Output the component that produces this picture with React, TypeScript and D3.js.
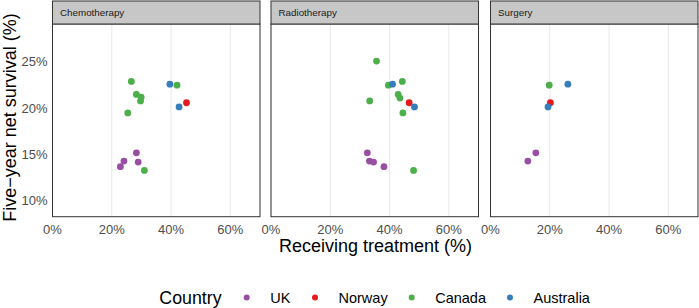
import React from "react";
import * as d3 from "d3";

const countries = ["UK", "Norway", "Canada", "Australia"];
const countryColors = ["#984EA3", "#E41A1C", "#4DAF4A", "#377EB8"];
const treatments = ["Chemotherapy", "Radiotherapy", "Surgery"];
const xTicks = [0, 20, 40, 60];
const yTicks = [10, 15, 20, 25];

// [country, receiving treatment %, five-year net survival %]
const chemoPoints: [string, number, number][] = [
  ["Canada", 26.6, 22.9],
  ["Australia", 39.6, 22.6],
  ["Canada", 42.0, 22.5],
  ["Canada", 28.3, 21.5],
  ["Canada", 29.9, 21.2],
  ["Canada", 29.7, 20.8],
  ["Norway", 45.2, 20.6],
  ["Australia", 42.7, 20.15],
  ["Canada", 25.4, 19.5],
  ["UK", 28.3, 15.2],
  ["UK", 24.1, 14.3],
  ["UK", 28.9, 14.2],
  ["UK", 22.9, 13.7],
  ["Canada", 31.0, 13.3],
];
const radioPoints: [string, number, number][] = [
  ["Canada", 35.6, 25.1],
  ["Canada", 44.3, 22.9],
  ["Canada", 39.6, 22.5],
  ["Australia", 41.0, 22.6],
  ["Canada", 42.9, 21.5],
  ["Canada", 43.5, 21.1],
  ["Norway", 46.6, 20.6],
  ["Australia", 48.4, 20.15],
  ["Canada", 33.3, 20.8],
  ["Canada", 44.5, 19.5],
  ["UK", 32.5, 15.2],
  ["UK", 33.2, 14.3],
  ["UK", 34.6, 14.2],
  ["UK", 38.1, 13.7],
  ["Canada", 48.1, 13.3],
];
const surgeryPoints: [string, number, number][] = [
  ["Canada", 19.8, 22.5],
  ["Australia", 26.1, 22.6],
  ["Norway", 20.2, 20.6],
  ["Australia", 19.4, 20.15],
  ["UK", 15.3, 15.2],
  ["UK", 12.6, 14.3],
];
const panelData = [chemoPoints, radioPoints, surgeryPoints];

const FONT = "'Liberation Sans', Arial, Helvetica, sans-serif";

export default function App() {
  const W = 699;
  const H = 308;
  const panelLefts = [52.5, 271, 490.5];
  const panelW = 207.5;
  const stripTop = 1;
  const stripBottom = 24;
  const panelBottom = 216.7;

  const color = d3.scaleOrdinal<string, string>().domain(countries).range(countryColors);
  const y = d3.scaleLinear().domain([8.3, 29.1]).range([panelBottom, stripBottom]);

  const legendDotX = [246.7, 315, 411.7, 510];
  const legendY = 298;

  return (
    <svg
      width={W}
      height={H}
      style={{ position: "absolute", left: 0, top: 0, fontFamily: FONT }}
    >
      <rect x={0} y={0} width={W} height={H} fill="#ffffff" />
      {treatments.map((t, i) => {
        const x = d3.scaleLinear().domain([0, 70]).range([panelLefts[i], panelLefts[i] + panelW]);
        const pts = panelData[i];
        return (
          <g key={t}>
            {xTicks.map((v) => (
              <line
                key={v}
                x1={x(v)}
                x2={x(v)}
                y1={stripBottom}
                y2={panelBottom}
                stroke="#EBEBEB"
                strokeWidth={1.1}
              />
            ))}
            {pts.map((p, j) => (
              <circle key={j} cx={x(p[1])} cy={y(p[2])} r={3.4} fill={color(p[0])} />
            ))}
            <rect
              x={panelLefts[i]}
              y={stripBottom}
              width={panelW}
              height={panelBottom - stripBottom}
              fill="none"
              stroke="#333333"
              strokeWidth={1}
            />
            <rect
              x={panelLefts[i]}
              y={stripTop}
              width={panelW}
              height={stripBottom - stripTop}
              fill="#C7C7C7"
              stroke="#333333"
              strokeWidth={1}
            />
            <text
              x={panelLefts[i] + 7.5}
              y={12.7}
              dominantBaseline="central"
              fontSize={9.8}
              fill="#1A1A1A"
            >
              {t}
            </text>
            {xTicks.map((v) => (
              <text
                key={v}
                x={x(v)}
                y={229}
                textAnchor="middle"
                dominantBaseline="central"
                fontSize={13}
                fill="#4D4D4D"
              >
                {v}%
              </text>
            ))}
          </g>
        );
      })}
      {yTicks.map((v) => (
        <text
          key={v}
          x={47.5}
          y={y(v)}
          textAnchor="end"
          dominantBaseline="central"
          fontSize={13}
          fill="#4D4D4D"
        >
          {v}%
        </text>
      ))}
      <text
        transform={`translate(15.5,117.5) rotate(-90)`}
        textAnchor="middle"
        fontSize={18}
        fill="#000000"
      >
        Five−year net survival (%)
      </text>
      <text x={375.5} y={246} textAnchor="middle" dominantBaseline="central" fontSize={18} fill="#000000">
        Receiving treatment (%)
      </text>
      <text x={159.3} y={legendY} dominantBaseline="central" fontSize={17.8} fill="#000000">
        Country
      </text>
      {countries.map((c, i) => (
        <g key={c}>
          <circle cx={legendDotX[i]} cy={legendY - 0.5} r={3} fill={color(c)} />
          <text
            x={legendDotX[i] + 23.5}
            y={legendY}
            dominantBaseline="central"
            fontSize={14.5}
            fill="#000000"
          >
            {c}
          </text>
        </g>
      ))}
    </svg>
  );
}
